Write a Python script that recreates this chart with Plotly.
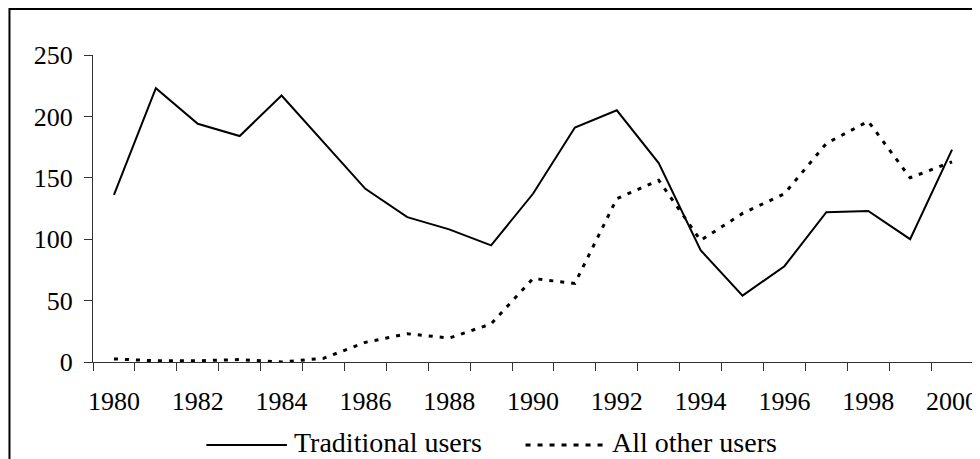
import plotly.graph_objects as go

years = list(range(1980, 2001))
traditional_users = [136, 223, 194, 184, 217, 179, 141, 118, 108, 95, 137, 191, 205, 162,
                     91, 54, 78, 122, 123, 100, 173]
all_other_users = [2.5, 1, 1, 2, 0, 3, 16, 23, 19.5, 31, 68, 64, 133, 148,
                   99, 121, 137, 178, 196, 150, 163]
series_names = ["Traditional users", "All other users"]
x_tick_vals = [1980, 1982, 1984, 1986, 1988, 1990, 1992, 1994, 1996, 1998, 2000]
x_tick_text = ["1980", "1982", "1984", "1986", "1988", "1990", "1992", "1994", "1996", "1998", "2000"]
y_tick_vals = [0, 50, 100, 150, 200, 250]

# the page body adds an 8px offset, so the figure is 8px smaller than the window
OFF = 8
W, H = 980 - OFF, 459 - OFF
L, R, T, B = 93 - OFF, 2, 55 - OFF, 97
PW, PH = W - L - R, H - T - B
FONT = "Liberation Serif, Times New Roman, serif"
DOT = "4px,7px"


def px(xp):
    return (xp - OFF - L) / PW


def py(yp):
    return (H - B - (yp - OFF)) / PH


fig = go.Figure()
fig.add_trace(go.Scatter(x=years, y=traditional_users, mode="lines", name=series_names[0],
                         line=dict(color="black", width=2), cliponaxis=False, showlegend=False))
fig.add_trace(go.Scatter(x=years, y=all_other_users, mode="lines", name=series_names[1],
                         line=dict(color="black", width=3, dash=DOT), cliponaxis=False,
                         showlegend=False))

shapes = [
    # outer frame
    dict(type="rect", xref="paper", yref="paper", x0=px(9), x1=px(1000), y0=py(480), y1=py(9),
         line=dict(color="black", width=2), fillcolor="rgba(0,0,0,0)", layer="below"),
    # legend samples
    dict(type="line", xref="paper", yref="paper", x0=px(207), x1=px(288), y0=py(445), y1=py(445),
         line=dict(color="black", width=2)),
    dict(type="line", xref="paper", yref="paper", x0=px(528), x1=px(609), y0=py(445), y1=py(445),
         line=dict(color="black", width=3, dash="5px,7px")),
]
annotations = [
    dict(xref="paper", yref="paper", x=px(293), y=py(442), text=series_names[0], showarrow=False,
         xanchor="left", yanchor="middle", font=dict(family=FONT, size=28, color="black")),
    dict(xref="paper", yref="paper", x=px(613), y=py(442), text=series_names[1], showarrow=False,
         xanchor="left", yanchor="middle", font=dict(family=FONT, size=28, color="black")),
]

fig.update_layout(
    width=W, height=H,
    margin=dict(l=L, r=R, t=T, b=B, pad=0),
    paper_bgcolor="white", plot_bgcolor="white",
    font=dict(family=FONT, size=26, color="black"),
    showlegend=False,
    shapes=shapes, annotations=annotations,
    xaxis=dict(type="linear", range=[1979.5, 2000.5], tickmode="array", tickvals=x_tick_vals,
               ticktext=x_tick_text, ticks="", showline=True, linecolor="#333", linewidth=1,
               showgrid=False, zeroline=False, ticklabelstandoff=16, ticklabeloverflow="allow",
               minor=dict(ticks="outside", tick0=1979.5, dtick=1, ticklen=8, tickcolor="#333",
                          tickwidth=1, showgrid=False)),
    yaxis=dict(range=[0, 250], tickmode="array", tickvals=y_tick_vals, ticks="outside",
               ticklen=8, tickcolor="#333", showline=True, linecolor="#333", linewidth=1,
               showgrid=False, zeroline=False, ticklabelstandoff=6),
)

fig.write_html("out.html")
